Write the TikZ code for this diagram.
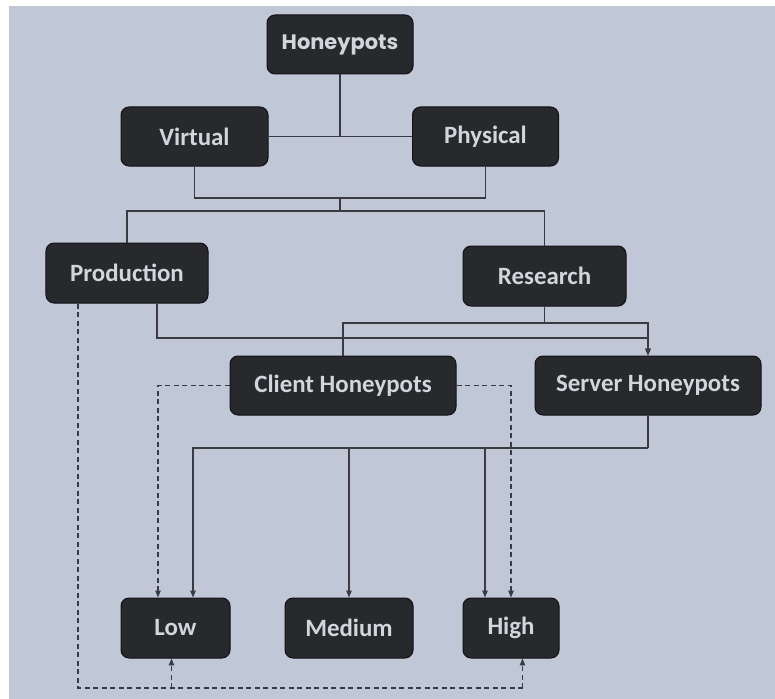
\documentclass[tikz,border=0pt]{standalone}
\usepackage{fontspec}
\setmainfont{Carlito}
\newfontfamily\hpfont{Poppins}
\usetikzlibrary{arrows.meta}
\definecolor{canvas}{HTML}{C0C7D6}
\definecolor{boxfill}{HTML}{28292D}
\definecolor{boxedge}{HTML}{121214}
\definecolor{boxtext}{HTML}{D3D5DB}
\definecolor{wire}{HTML}{3A3B3F}
\tikzset{
  block/.style={draw=boxedge, line width=1bp, fill=boxfill, rounded corners=8bp,
    text=boxtext, font=\fontsize{25}{30}\selectfont\bfseries, inner sep=0pt},
  link/.style={draw=wire, line width=1.3bp},
  flow/.style={link, -{Triangle[length=7pt,width=5.5pt]}},
  weak/.style={link, dash pattern=on 5bp off 3.5bp},
  weakflow/.style={weak, -{Triangle[length=7pt,width=5.5pt]}}
}
\begin{document}
\begin{tikzpicture}[x=1bp,y=-1bp]
  % page and canvas
  \useasboundingbox (0,0) rectangle (775,699);
  \fill[white] (0,0) rectangle (775,699);
  \fill[canvas] (9,6) rectangle (775,699);

  % nodes
  \node[block, minimum width=146bp, minimum height=59bp, font=\hpfont\fontsize{21}{25}\selectfont\bfseries] (hp) at (340,44.5) {Honeypots};
  \node[block, minimum width=147bp, minimum height=59bp] (virt) at (194.5,136.5) {Virtual};
  \node[block, minimum width=146bp, minimum height=59bp] (phys) at (485.5,136.5) {Physical};
  \node[block, minimum width=162bp, minimum height=60bp] (prod) at (127,273) {Production};
  \node[block, minimum width=163bp, minimum height=60bp] (res) at (544.5,276) {Research};
  \node[block, minimum width=226bp, minimum height=59bp] (client) at (343,385.5) {Client Honeypots};
  \node[block, minimum width=226bp, minimum height=59bp] (server) at (648,385.5) {Server Honeypots};
  \node[block, minimum width=109bp, minimum height=60bp] (low) at (175.5,628) {Low};
  \node[block, minimum width=128bp, minimum height=60bp] (med) at (349,628) {Medium};
  \node[block, minimum width=96bp, minimum height=60bp] (high) at (511,628) {High};

  % junction points
  \coordinate (vp) at (340,198);
  \coordinate (pr) at (340,211);
  \coordinate (rs) at (544.5,323);
  \coordinate (pl) at (0,338);
  \coordinate (bus) at (648,448);
  \coordinate (bot) at (0,688);

  % top tree
  \draw[link] (hp.south) -- (hp.south |- virt.east);
  \draw[link] (virt.east) -- (phys.west);
  \draw[link] (virt.south) |- (vp) -| (phys.south);
  \draw[link] (vp) -- (pr);
  \draw[link] (prod.north) |- (pr) -| (res.north);

  % research and production to the honeypot kinds
  \draw[link] (res.south) -- (rs);
  \draw[link] (rs) -| (client.north);
  \draw[flow] (rs) -| (server.north);
  \draw[flow] ([xshift=30bp]prod.south) |- (server.north |- pl) -- (server.north);

  % client honeypots, dashed
  \draw[weakflow] (client.west) -| ([xshift=-17.5bp]low.north);
  \draw[weakflow] (client.east) -| (high.north);

  % server honeypots to the interaction levels
  \draw[link] (server.south) -- (bus);
  \draw[flow] (bus) -| ([xshift=17.5bp]low.north);
  \draw[flow] (med.north |- bus) -- (med.north);
  \draw[flow] ([xshift=-26bp]high.north |- bus) -- ([xshift=-26bp]high.north);

  % production, dashed, from below
  \draw[weak] ([xshift=-49bp]prod.south) |- ([xshift=11.5bp]high.south |- bot);
  \draw[weakflow] ([xshift=11.5bp]high.south |- bot) -- ([xshift=11.5bp]high.south);
  \draw[weakflow] ([xshift=-4bp]low.south |- bot) -- ([xshift=-4bp]low.south);
\end{tikzpicture}
\end{document}
